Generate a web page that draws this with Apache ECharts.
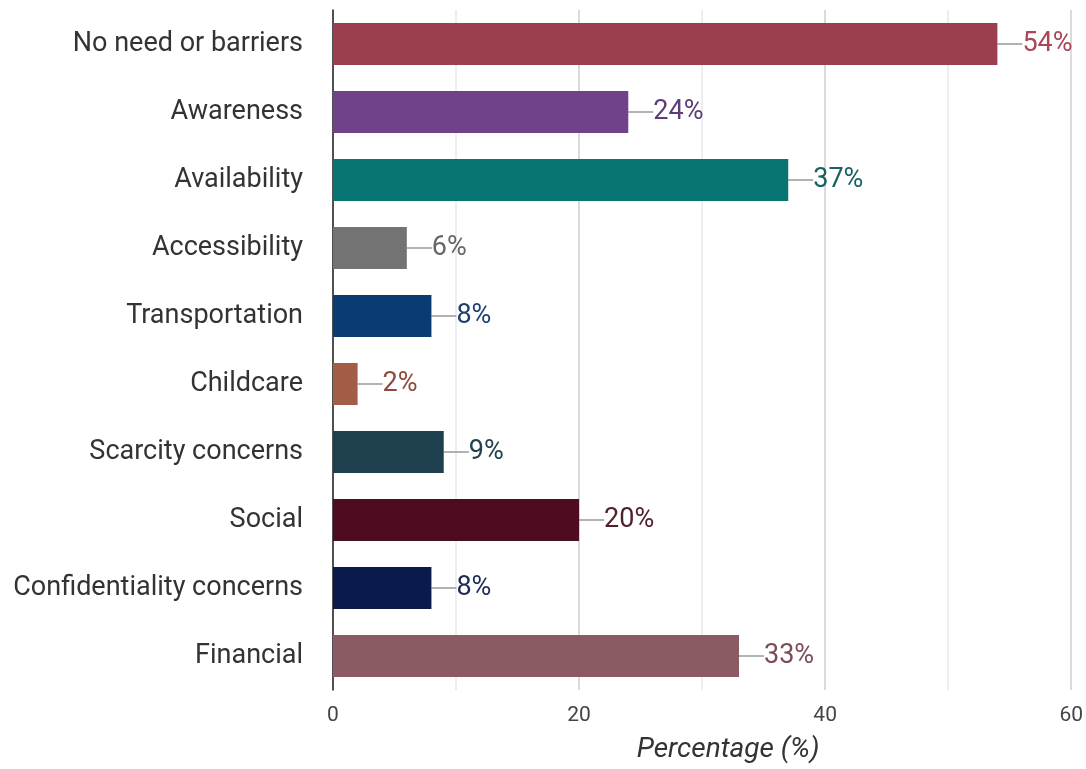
<!DOCTYPE html>
<html><head><meta charset="utf-8">
<script src="https://cdn.jsdelivr.net/npm/echarts@6/dist/echarts.min.js"></script>
<style>html,body{margin:0;padding:0;background:#fff}#c{width:1086px;height:769px}</style>
</head><body><div id="c"></div>
<script>
const categories = ["No need or barriers","Awareness","Availability","Accessibility","Transportation","Childcare","Scarcity concerns","Social","Confidentiality concerns","Financial"];
const values = [54,24,37,6,8,2,9,20,8,33];
const barColors = ["#9B3F4F","#6F428A","#087572","#737373","#0B3B73","#A35D47","#1E3F4D","#4E0D1F","#0A1A4A","#8B5A63"];
const labelColors = ["#A8465A","#5E3C78","#17625F","#666666","#1F3F6E","#8E4A3A","#22404E","#52202C","#1C2A58","#7C4C57"];
const xTicks = [0,20,40,60];

const chart = echarts.init(document.getElementById('c'));
chart.setOption({
  animation:false,
  grid:{left:333,right:13,top:10,bottom:77,containLabel:false},
  xAxis:{type:'value',min:0,max:60,interval:10,
    name:'Percentage (%)',nameLocation:'middle',nameGap:46,
    nameTextStyle:{fontFamily:'Roboto',fontSize:28,fontStyle:'italic',color:'#333',padding:[0,0,0,52]},
    axisLine:{show:false},axisTick:{show:false},
    axisLabel:{fontFamily:'Roboto',fontSize:21,color:'#444',margin:15,
      formatter:v=>xTicks.includes(v)?String(v):''},
    splitLine:{show:true,lineStyle:{color:['#cfcfcf','#e8e8e8'],width:1.5}}
  },
  yAxis:{type:'category',data:categories,inverse:true,
    axisLine:{show:true,lineStyle:{color:'#222',width:1.5}},
    axisTick:{show:false},
    axisLabel:{fontFamily:'Roboto',fontSize:27,color:'#333',margin:30}
  },
  series:[{type:'bar',barWidth:42,
    data:values.map((v,i)=>({value:v,itemStyle:{color:barColors[i]},
      label:{color:labelColors[i]}})),
    label:{show:true,position:'right',distance:0,formatter:'{c}%',fontFamily:'Roboto',fontSize:27},
    labelLayout:{dx:25},
    labelLine:{show:true,lineStyle:{color:'#999',width:1.5}}
  }]
});
</script></body></html>
